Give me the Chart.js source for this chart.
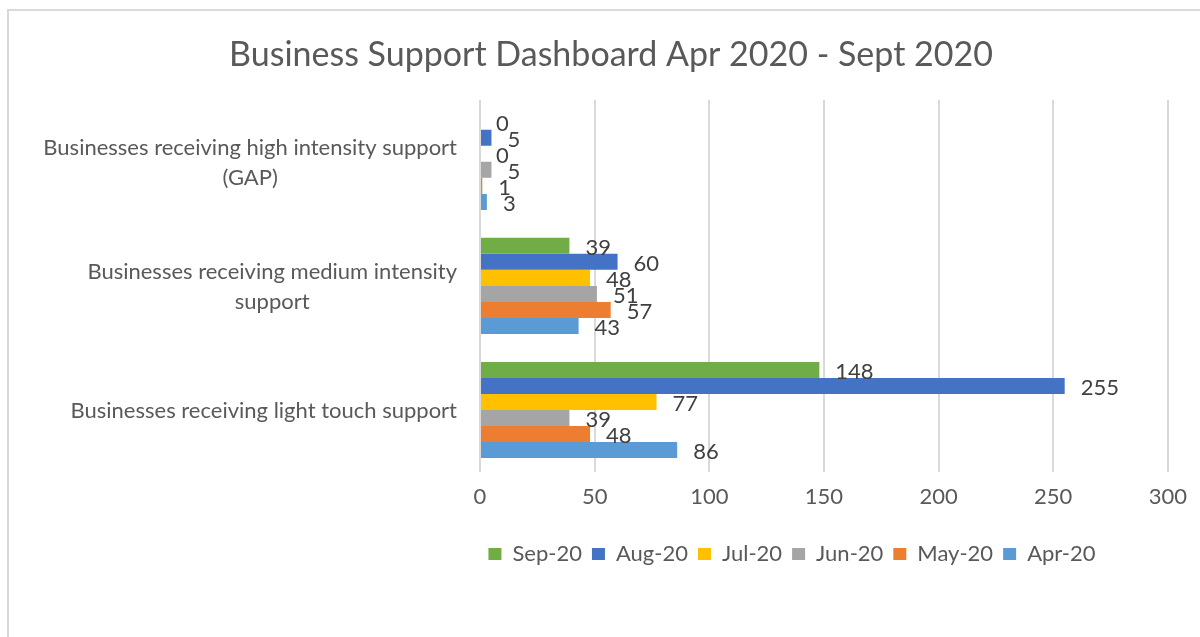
<!DOCTYPE html>
<html>
<head>
<meta charset="utf-8">
<script src="https://cdn.jsdelivr.net/npm/chart.js@4"></script>
<style>
  html, body { margin: 0; padding: 0; background: #ffffff; overflow: hidden; }
  #frame { position: absolute; left: 7px; top: 9px; width: 1300px; height: 700px; border-left: 2px solid #d9d9d9; border-top: 2px solid #d9d9d9; }
  #wrap { position: absolute; left: 9px; top: 11px; width: 1190px; height: 626px; }
</style>
</head>
<body>
<div id="frame"></div>
<div id="wrap"><canvas id="c" width="1190" height="626"></canvas></div>
<script>
// ---- data ----
const categories = [
  ["Businesses receiving high intensity support", "(GAP)"],
  ["Businesses receiving medium intensity", "support"],
  ["Businesses receiving light touch support"]
];
const seriesNames = ["Sep-20", "Aug-20", "Jul-20", "Jun-20", "May-20", "Apr-20"];
const sep20 = [0, 39, 148];
const aug20 = [5, 60, 255];
const jul20 = [0, 48, 77];
const jun20 = [5, 51, 39];
const may20 = [1, 57, 48];
const apr20 = [3, 43, 86];
const xTicks = [0, 50, 100, 150, 200, 250, 300];
const titleText = "Business Support Dashboard Apr 2020 - Sept 2020";

// ---- styles ----
const seriesColors = ["#70AD47", "#4472C4", "#FFC000", "#A5A5A5", "#ED7D31", "#5B9BD5"];
const FONT = "Lato";
const TXT = "#595959";

const seriesValues = [sep20, aug20, jul20, jun20, may20, apr20];
const datasets = seriesNames.map((n, i) => ({
  label: n,
  data: seriesValues[i],
  backgroundColor: seriesColors[i],
  borderWidth: 0,
  barPercentage: 1,
  categoryPercentage: 0.775
}));

const yLabelPlugin = {
  id: 'yLabels',
  afterDraw(chart) {
    const ctx = chart.ctx;
    const ys = chart.scales.y;
    const right = chart.chartArea.left - 23;
    ctx.save();
    ctx.font = "22px " + FONT;
    ctx.fillStyle = TXT;
    ctx.textAlign = 'center';
    ctx.textBaseline = 'middle';
    categories.forEach((lines, i) => {
      const cy = ys.getPixelForTick(i);
      const maxW = Math.max(...lines.map(l => ctx.measureText(l).width));
      const cx = right - maxW / 2;
      lines.forEach((l, j) => {
        ctx.fillText(l, cx, cy + 1 + (j - (lines.length - 1) / 2) * 30);
      });
    });
    ctx.restore();
  }
};

const dataLabelPlugin = {
  id: 'dataLabels',
  afterDatasetsDraw(chart) {
    const ctx = chart.ctx;
    ctx.save();
    ctx.font = "22px " + FONT;
    ctx.fillStyle = "#404040";
    ctx.textAlign = 'left';
    ctx.textBaseline = 'middle';
    chart.data.datasets.forEach((ds, di) => {
      const meta = chart.getDatasetMeta(di);
      meta.data.forEach((bar, i) => {
        ctx.fillText(String(ds.data[i]), bar.x + 16, bar.y + 2);
      });
    });
    ctx.restore();
  }
};

function shiftBox(box, desired) {
  if (!box) return;
  const shift = desired - (box.left + box.right) / 2;
  box.left += shift;
  box.right += shift;
}

const boxShiftPlugin = {
  id: 'boxShift',
  afterLayout(chart) {
    shiftBox(chart.legend, 783);
    shiftBox(chart.titleBlock, 602);
  }
};

new Chart(document.getElementById('c'), {
  type: 'bar',
  data: { labels: categories.map(c => c.join(' ')), datasets },
  options: {
    indexAxis: 'y',
    responsive: false,
    animation: false,
    layout: { padding: { left: 0, right: 21, top: 0, bottom: 62 } },
    scales: {
      x: {
        min: 0, max: 300,
        afterBuildTicks(scale) { scale.ticks = xTicks.map(v => ({ value: v })); },
        grid: { color: "#d9d9d9", lineWidth: 2, drawTicks: false },
        border: { display: false },
        ticks: { color: TXT, font: { family: FONT, size: 22 }, padding: 12 },
        afterFit(scale) { scale.height = 61; }
      },
      y: {
        grid: { display: false },
        border: { display: false },
        ticks: { display: false },
        afterFit(scale) { scale.width = 471; }
      }
    },
    plugins: {
      title: {
        display: true,
        text: titleText,
        color: TXT,
        font: { family: FONT, size: 34, weight: 'normal' },
        padding: { top: 24, bottom: 24 }
      },
      legend: {
        position: 'bottom',
        labels: {
          color: TXT,
          font: { family: FONT, size: 22 },
          boxWidth: 13,
          boxHeight: 12,
          padding: 10
        }
      },
      tooltip: { enabled: false }
    }
  },
  plugins: [yLabelPlugin, dataLabelPlugin, boxShiftPlugin]
});
</script>
</body>
</html>
